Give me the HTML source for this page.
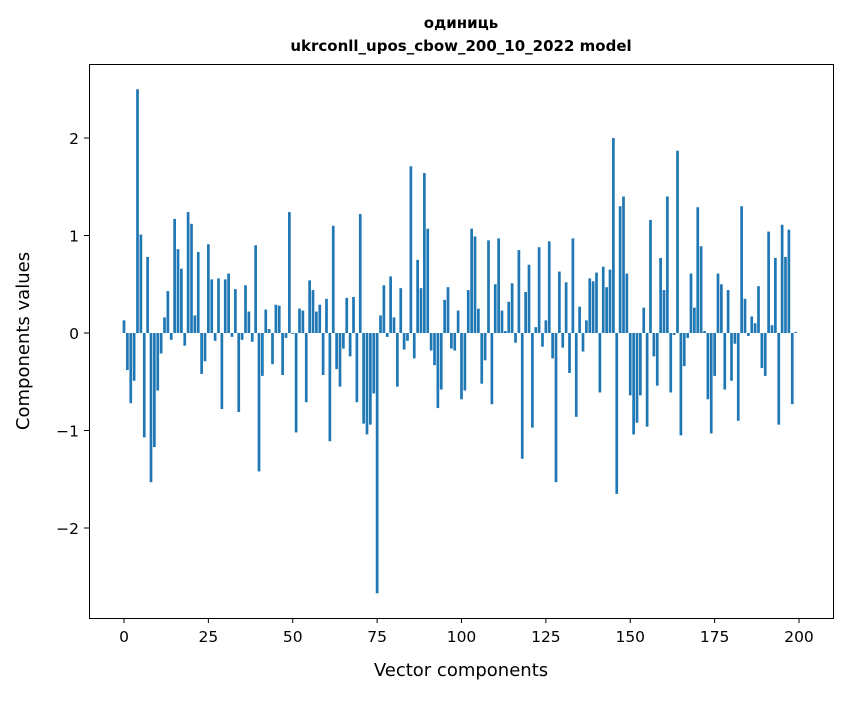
<!DOCTYPE html>
<html><head><meta charset="utf-8"><style>
body{margin:0;background:#fff;}
svg text{font-family:"DejaVu Sans","Liberation Sans",sans-serif;fill:#000;}
</style></head><body>
<svg width="847" height="696" xmlns="http://www.w3.org/2000/svg">
<rect width="847" height="696" fill="#fff"/>
<text x="461" y="28" text-anchor="middle" font-size="15" font-weight="bold">одиниць</text>
<text x="461" y="51" text-anchor="middle" font-size="15" font-weight="bold">ukrconll_upos_cbow_200_10_2022 model</text>
<g id="bars"></g>
<g id="axes"></g>
<rect x="89.5" y="64.5" width="744" height="554" fill="none" stroke="#000" stroke-width="1"/>
<text x="461" y="676" text-anchor="middle" font-size="18">Vector components</text>
<text transform="translate(29,341) rotate(-90)" text-anchor="middle" font-size="18">Components values</text>
</svg>
<script>
const values = [0.13,-0.38,-0.72,-0.49,2.50,1.01,-1.07,0.78,-1.53,-1.17,
-0.59,-0.21,0.16,0.43,-0.07,1.17,0.86,0.66,-0.13,1.24,
1.12,0.18,0.83,-0.42,-0.29,0.91,0.55,-0.08,0.56,-0.78,
0.55,0.61,-0.04,0.45,-0.81,-0.07,0.49,0.22,-0.09,0.90,
-1.42,-0.44,0.24,0.04,-0.32,0.29,0.28,-0.43,-0.05,1.24,
-0.01,-1.02,0.25,0.23,-0.71,0.54,0.44,0.22,0.29,-0.43,
0.35,-1.11,1.10,-0.37,-0.55,-0.16,0.36,-0.24,0.37,-0.71,
1.22,-0.93,-1.04,-0.94,-0.62,-2.67,0.18,0.49,-0.04,0.58,
0.16,-0.55,0.46,-0.17,-0.08,1.71,-0.26,0.75,0.46,1.64,
1.07,-0.18,-0.33,-0.77,-0.58,0.34,0.47,-0.16,-0.18,0.23,
-0.68,-0.59,0.44,1.07,0.99,0.25,-0.52,-0.28,0.95,-0.73,
0.50,0.97,0.23,0.02,0.32,0.51,-0.10,0.85,-1.29,0.42,
0.70,-0.97,0.06,0.88,-0.14,0.13,0.94,-0.26,-1.53,0.63,
-0.15,0.52,-0.41,0.97,-0.86,0.27,-0.19,0.13,0.56,0.53,
0.62,-0.61,0.68,0.47,0.65,2.00,-1.65,1.30,1.40,0.61,
-0.64,-1.04,-0.92,-0.64,0.26,-0.96,1.16,-0.24,-0.54,0.77,
0.44,1.40,-0.61,-0.02,1.87,-1.05,-0.34,-0.05,0.61,0.26,
1.29,0.89,0.02,-0.68,-1.03,-0.44,0.61,0.50,-0.58,0.44,
-0.49,-0.11,-0.90,1.30,0.35,-0.03,0.17,0.10,0.48,-0.36,
-0.44,1.04,0.08,0.77,-0.94,1.11,0.78,1.06,-0.73,0.01];
const xTicks = [0,25,50,75,100,125,150,175,200];
const yTicks = [-2,-1,0,1,2];
const yTickLabels = ["\u22122","\u22121","0","1","2"];

function xs(v){return 124 + v*3.375;}
function ys(v){return 333 - v*97.5;}
const NS="http://www.w3.org/2000/svg";
const bars=document.getElementById('bars');
values.forEach((v,i)=>{
  const r=document.createElementNS(NS,'rect');
  
  
  const y0=ys(0), y1=ys(v);
  r.setAttribute('x',xs(i)-0.4*3.375);
  r.setAttribute('width',0.8*3.375);
  r.setAttribute('y',Math.min(y0,y1));
  r.setAttribute('height',Math.max(Math.abs(y1-y0),0.5));
  r.setAttribute('fill','#1f77b4');
  bars.appendChild(r);
});
const axes=document.getElementById('axes');
xTicks.forEach(t=>{
  const l=document.createElementNS(NS,'line');
  
  
  l.setAttribute('x1',xs(t));l.setAttribute('x2',xs(t));
  l.setAttribute('y1',618);l.setAttribute('y2',623);
  l.setAttribute('stroke','#000');
  axes.appendChild(l);
  const tx=document.createElementNS(NS,'text');
  
  
  tx.setAttribute('x',xs(t));tx.setAttribute('y',642);
  tx.setAttribute('text-anchor','middle');tx.setAttribute('font-size','15.5');
  tx.textContent=String(t);
  axes.appendChild(tx);
});
yTicks.forEach((t,k)=>{
  const l=document.createElementNS(NS,'line');
  
  
  l.setAttribute('x1',84);l.setAttribute('x2',89);
  l.setAttribute('y1',ys(t));l.setAttribute('y2',ys(t));
  l.setAttribute('stroke','#000');
  axes.appendChild(l);
  const tx=document.createElementNS(NS,'text');
  
  
  tx.setAttribute('x',79);tx.setAttribute('y',ys(t)+6);
  tx.setAttribute('text-anchor','end');tx.setAttribute('font-size','15.5');
  tx.textContent=yTickLabels[k];
  axes.appendChild(tx);
});
</script>
</body></html>
